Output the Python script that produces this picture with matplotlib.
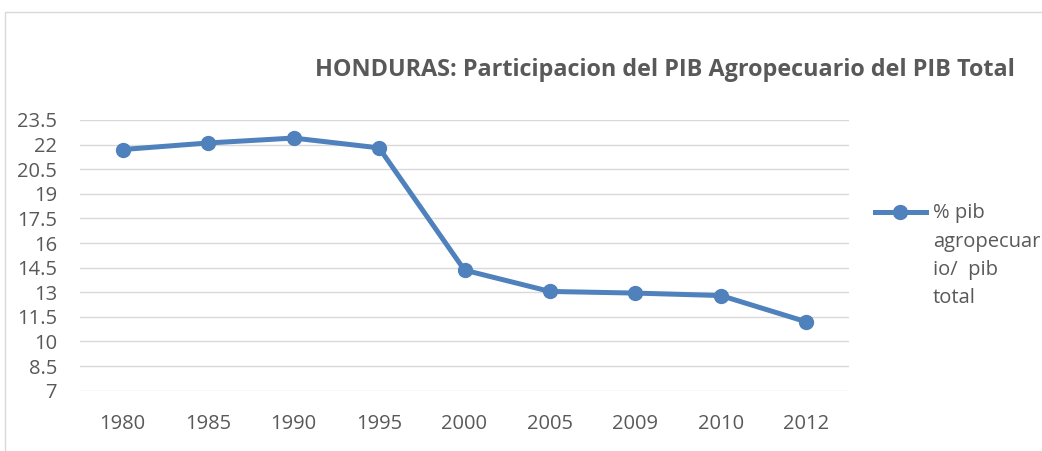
import matplotlib.pyplot as plt
from matplotlib.lines import Line2D
from matplotlib.patches import Rectangle

# data
years = ['1980', '1985', '1990', '1995', '2000', '2005', '2009', '2010', '2012']
pib_agro = [21.7, 22.1, 22.4, 21.8, 14.35, 13.05, 12.95, 12.8, 11.2]
yticks = [7, 8.5, 10, 11.5, 13, 14.5, 16, 17.5, 19, 20.5, 22, 23.5]

blue = '#4F81BD'
grey_txt = '#595959'
plt.rcParams['font.family'] = ['Open Sans', 'DejaVu Sans']

fig = plt.figure(figsize=(10.42, 4.51), dpi=100)
W, H = 1042.0, 451.0

# chart area border
fig.patches.append(Rectangle((5 / W, -0.1), 1.2, 1 - 12 / H + 0.1,
                             transform=fig.transFigure, fill=False,
                             edgecolor='#D9D9D9', lw=1))

ax = fig.add_axes([80 / W, 1 - 390.7 / H, (849 - 80) / W, (390.7 - 120) / H])
x = range(len(years))
ax.plot(x, pib_agro, color=blue, lw=3.6, marker='o', markersize=10,
        solid_joinstyle='round')
ax.set_xlim(-0.5, len(years) - 0.5)
ax.set_ylim(7, 23.5)
ax.set_yticks(yticks)
ax.set_yticklabels([('%g' % v) for v in yticks])
ax.set_xticks(list(x))
ax.set_xticklabels(years)
ax.grid(axis='y', color='#D9D9D9', lw=1)
ax.set_axisbelow(True)
for s in ax.spines.values():
    s.set_visible(False)
ax.tick_params(length=0, labelsize=14.5, colors=grey_txt)
ax.tick_params(axis='y', pad=16.5)
ax.tick_params(axis='x', pad=17)
ax.set_clip_on(False)

fig.text(665 / W, 1 - 76 / H,
         'HONDURAS: Participacion del PIB Agropecuario del PIB Total',
         ha='center', va='baseline', fontsize=16.8, fontweight='bold', color=grey_txt)

# legend, drawn by hand so the marker sits on the first line
fig.lines.append(Line2D([875 / W, 926 / W], [1 - 212 / H] * 2, transform=fig.transFigure,
                        color=blue, lw=3.6))
fig.lines.append(Line2D([900 / W], [1 - 212 / H], transform=fig.transFigure,
                        color=blue, marker='o', markersize=10))
# multi-line text: baseline alignment goes to the last line ("total")
fig.text(933 / W, 1 - 303 / H, '% pib\nagropecuar\nio/  pib\ntotal',
         ha='left', va='baseline', fontsize=14.5, color=grey_txt, linespacing=1.55)

fig.savefig('out.png', dpi=100)
